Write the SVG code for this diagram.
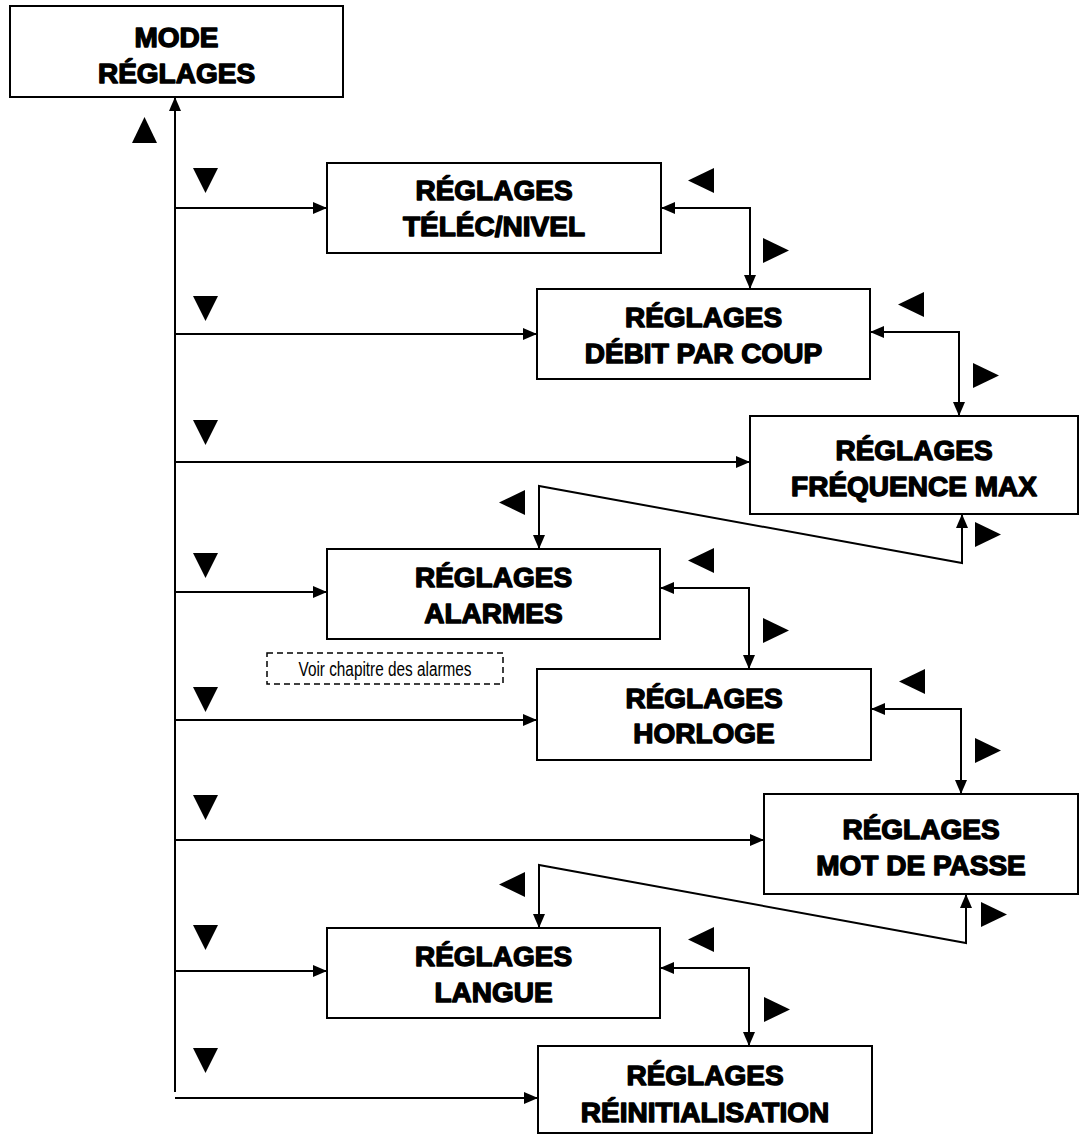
<svg xmlns="http://www.w3.org/2000/svg" xmlns:xlink="http://www.w3.org/1999/xlink" width="1092" height="1135" viewBox="0 0 1092 1135">
<style>
.box{fill:#fff;stroke:#000;stroke-width:2}
.lbl{font-family:"Liberation Sans",Arial,sans-serif;font-weight:bold;font-size:28px;fill:#000;stroke:#000;stroke-width:1.4;stroke-linejoin:round;text-anchor:middle}
.con{fill:none;stroke:#000;stroke-width:2}
.arr{marker-end:url(#ah)}
.bi{marker-start:url(#ah);marker-end:url(#ah)}
.tri{fill:#000}
.note{fill:none;stroke:#000;stroke-width:1.5;stroke-dasharray:6 4}
.notetxt{font-family:"Liberation Sans Narrow","Liberation Sans",Arial,sans-serif;font-size:20px;fill:#000;text-anchor:middle}
</style>
<defs>
<marker id="ah" markerWidth="14" markerHeight="12" refX="14" refY="6" orient="auto-start-reverse" markerUnits="userSpaceOnUse"><path d="M0,0 L14,6 L0,12 z" fill="#000"/></marker>
<path id="tdown" d="M0,0 H25 L12.5,25 z"/>
<path id="tleft" d="M26,0 V25 L0,12.5 z"/>
<path id="tright" d="M0,0 V25 L26,12.5 z"/>
</defs>
<rect width="1092" height="1135" fill="#fff"/>

<g id="connectors">
<path class="con arr" d="M175,1092 V97"/>
<path class="con arr" d="M175,208 H327"/>
<path class="con arr" d="M175,334 H537"/>
<path class="con arr" d="M175,462 H750"/>
<path class="con arr" d="M175,592 H327"/>
<path class="con arr" d="M175,720 H537"/>
<path class="con arr" d="M175,840 H764"/>
<path class="con arr" d="M175,971 H327"/>
<path class="con arr" d="M175,1098 H538"/>
<path class="con bi" d="M661,208 H750 V289"/>
<path class="con bi" d="M870,332 H959 V416"/>
<path class="con bi" d="M539,549 V486 L962,563 V514"/>
<path class="con bi" d="M660,588 H749 V669"/>
<path class="con bi" d="M871,709 H961 V794"/>
<path class="con bi" d="M539,928 V865 L966,943 V894"/>
<path class="con bi" d="M660,968 H749 V1046"/>
</g>

<g id="direction-keys">
<path class="tri" d="M144.5,117 L157,143 H132 z"/>
<use href="#tdown" xlink:href="#tdown" class="tri" x="193" y="168"/>
<use href="#tdown" xlink:href="#tdown" class="tri" x="193" y="296"/>
<use href="#tdown" xlink:href="#tdown" class="tri" x="193" y="420"/>
<use href="#tdown" xlink:href="#tdown" class="tri" x="193" y="553"/>
<use href="#tdown" xlink:href="#tdown" class="tri" x="193" y="687"/>
<use href="#tdown" xlink:href="#tdown" class="tri" x="193" y="795"/>
<use href="#tdown" xlink:href="#tdown" class="tri" x="193" y="925"/>
<use href="#tdown" xlink:href="#tdown" class="tri" x="193" y="1048"/>
<use href="#tleft" xlink:href="#tleft" class="tri" x="688" y="168"/>
<use href="#tleft" xlink:href="#tleft" class="tri" x="898" y="292"/>
<use href="#tleft" xlink:href="#tleft" class="tri" x="499" y="490"/>
<use href="#tleft" xlink:href="#tleft" class="tri" x="688" y="548"/>
<use href="#tleft" xlink:href="#tleft" class="tri" x="899" y="669"/>
<use href="#tleft" xlink:href="#tleft" class="tri" x="499" y="872"/>
<use href="#tleft" xlink:href="#tleft" class="tri" x="688" y="927"/>
<use href="#tright" xlink:href="#tright" class="tri" x="763" y="238"/>
<use href="#tright" xlink:href="#tright" class="tri" x="973" y="363"/>
<use href="#tright" xlink:href="#tright" class="tri" x="975" y="522"/>
<use href="#tright" xlink:href="#tright" class="tri" x="763" y="618"/>
<use href="#tright" xlink:href="#tright" class="tri" x="975" y="738"/>
<use href="#tright" xlink:href="#tright" class="tri" x="981" y="902"/>
<use href="#tright" xlink:href="#tright" class="tri" x="764" y="997"/>
</g>

<g id="mode-reglages">
<rect class="box" x="10" y="6" width="333" height="91"/>
<text class="lbl" x="176.5" y="47">MODE</text>
<text class="lbl" x="176.5" y="83">RÉGLAGES</text>
</g>
<g id="reglages-telec-nivel">
<rect class="box" x="327" y="163" width="334" height="90"/>
<text class="lbl" x="494" y="200">RÉGLAGES</text>
<text class="lbl" x="494" y="236">TÉLÉC/NIVEL</text>
</g>
<g id="reglages-debit">
<rect class="box" x="537" y="289" width="333" height="90"/>
<text class="lbl" x="703.5" y="327">RÉGLAGES</text>
<text class="lbl" x="703.5" y="363">DÉBIT PAR COUP</text>
</g>
<g id="reglages-frequence">
<rect class="box" x="750" y="416" width="328" height="98"/>
<text class="lbl" x="914" y="460">RÉGLAGES</text>
<text class="lbl" x="914" y="496">FRÉQUENCE MAX</text>
</g>
<g id="reglages-alarmes">
<rect class="box" x="327" y="549" width="333" height="90"/>
<text class="lbl" x="493.5" y="587">RÉGLAGES</text>
<text class="lbl" x="493.5" y="623">ALARMES</text>
</g>
<g id="note-alarmes">
<rect class="note" x="267" y="653" width="236" height="31"/>
<text class="notetxt" x="385" y="676" textLength="173" lengthAdjust="spacingAndGlyphs">Voir chapitre des alarmes</text>
</g>
<g id="reglages-horloge">
<rect class="box" x="537" y="669" width="334" height="91"/>
<text class="lbl" x="704" y="708">RÉGLAGES</text>
<text class="lbl" x="704" y="743">HORLOGE</text>
</g>
<g id="reglages-mot-de-passe">
<rect class="box" x="764" y="794" width="314" height="100"/>
<text class="lbl" x="921" y="839">RÉGLAGES</text>
<text class="lbl" x="921" y="875">MOT DE PASSE</text>
</g>
<g id="reglages-langue">
<rect class="box" x="327" y="928" width="333" height="90"/>
<text class="lbl" x="493.5" y="966">RÉGLAGES</text>
<text class="lbl" x="493.5" y="1002">LANGUE</text>
</g>
<g id="reglages-reinitialisation">
<rect class="box" x="538" y="1046" width="334" height="87"/>
<text class="lbl" x="705" y="1085">RÉGLAGES</text>
<text class="lbl" x="705" y="1122">RÉINITIALISATION</text>
</g>
</svg>
